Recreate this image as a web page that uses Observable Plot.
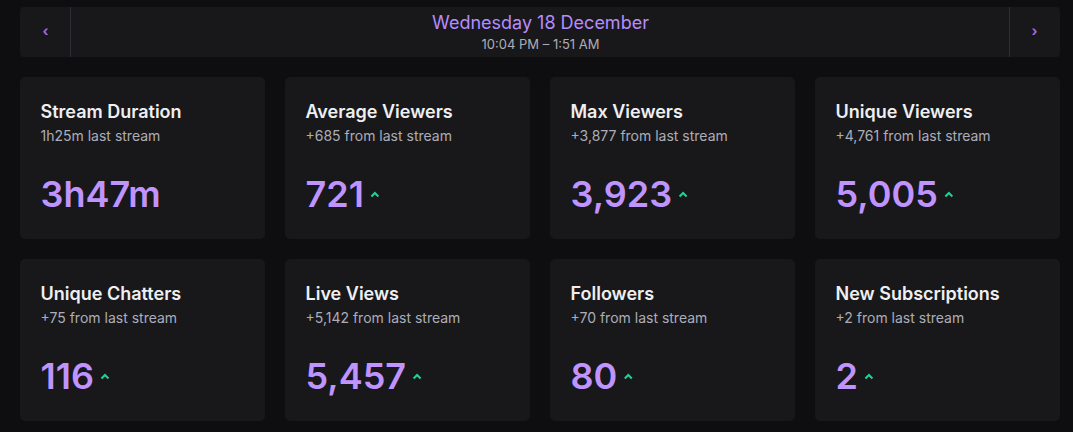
<!DOCTYPE html>
<html><head><meta charset="utf-8">
<script src="https://cdn.jsdelivr.net/npm/d3@7"></script>
<script src="https://cdn.jsdelivr.net/npm/@observablehq/plot@0.6"></script>
<style>
html,body{margin:0;padding:0;background:#0e0e10;}
#chart svg{display:block;}
</style></head>
<body><div id="chart"></div>
<script>
// ---- data ----
const headerDate = "Wednesday 18 December";
const headerTime = "10:04 PM – 1:51 AM";
const titles = ["Stream Duration","Average Viewers","Max Viewers","Unique Viewers",
  "Unique Chatters","Live Views","Followers","New Subscriptions"];
const subtitles = ["1h25m last stream","+685 from last stream","+3,877 from last stream","+4,761 from last stream",
  "+75 from last stream","+5,142 from last stream","+70 from last stream","+2 from last stream"];
const valueLabels = ["3h47m","721","3,923","5,005","116","5,457","80","2"];
const trendUp = [false,true,true,true,true,true,true,true];

// ---- layout (derived from index) ----
const W = 1073, H = 432;
const cardW = 245, cardH = 162, gapX = 20, gapY = 20, gridLeft = 20, gridTop = 77;
const valueFont = "600 36px Inter";
const ctx = document.createElement("canvas").getContext("2d");
ctx.font = valueFont;

const cards = titles.map((t, i) => {
  const col = i % 4, row = Math.floor(i / 4);
  const x0 = gridLeft + col * (cardW + gapX), y0 = gridTop + row * (cardH + gapY);
  return {title: t, sub: subtitles[i], value: valueLabels[i], up: trendUp[i],
    x0, y0, x1: x0 + cardW, y1: y0 + cardH,
    vw: ctx.measureText(valueLabels[i]).width};
});

const header = [{x1: 20, x2: 1060, y1: 7, y2: 57}];
const chevron = {
  draw(c, size) {
    c.moveTo(-3.5, 2); c.lineTo(0, -1.5); c.lineTo(3.5, 2);
  }
};

const plot = Plot.plot({
  width: W, height: H, margin: 0,
  x: {type: "identity", axis: null},
  y: {type: "identity", axis: null},
  style: {background: "#0e0e10", fontFamily: "Inter, sans-serif"},
  marks: [
    Plot.rect(header, {x1: "x1", x2: "x2", y1: "y1", y2: "y2", fill: "#18181b", rx: 4}),
    Plot.ruleX([70, 1009], {y1: 7, y2: 57, stroke: "#2f2f35", strokeWidth: 1}),
    Plot.text(["‹"], {x: 45, y: 31, text: d => d, fill: "#9a6ae8", fontSize: 14, fontWeight: 700}),
    Plot.text(["›"], {x: 1034, y: 31, text: d => d, fill: "#9a6ae8", fontSize: 14, fontWeight: 700}),
    Plot.text([headerDate], {x: 540, y: 28, text: d => d, fill: "#b58cff", fontSize: 18, lineAnchor: "bottom"}),
    Plot.text([headerTime], {x: 540, y: 48, text: d => d, fill: "#adadb8", fontSize: 13, lineAnchor: "bottom"}),
    Plot.rect(cards, {x1: "x0", x2: "x1", y1: "y0", y2: "y1", fill: "#18181b", rx: 5}),
    Plot.text(cards, {x: d => d.x0 + 20, y: d => d.y0 + 40, text: "title", fill: "#efeff1",
      fontSize: 18, fontWeight: 600, textAnchor: "start", lineAnchor: "bottom"}),
    Plot.text(cards, {x: d => d.x0 + 20, y: d => d.y0 + 63, text: "sub", fill: "#adadb8",
      fontSize: 14, textAnchor: "start", lineAnchor: "bottom"}),
    Plot.text(cards, {x: d => d.x0 + 20, y: d => d.y0 + 129, text: "value", fill: "#bf94ff",
      fontSize: 36, fontWeight: 600, textAnchor: "start", lineAnchor: "bottom"}),
    Plot.dot(cards.filter(d => d.up), {x: d => d.x0 + 20 + d.vw + 11, y: d => d.y0 + 117,
      symbol: chevron, stroke: "#1fd390", strokeWidth: 2, fill: "none", r: 4})
  ]
});
document.getElementById("chart").appendChild(plot);
</script></body></html>
